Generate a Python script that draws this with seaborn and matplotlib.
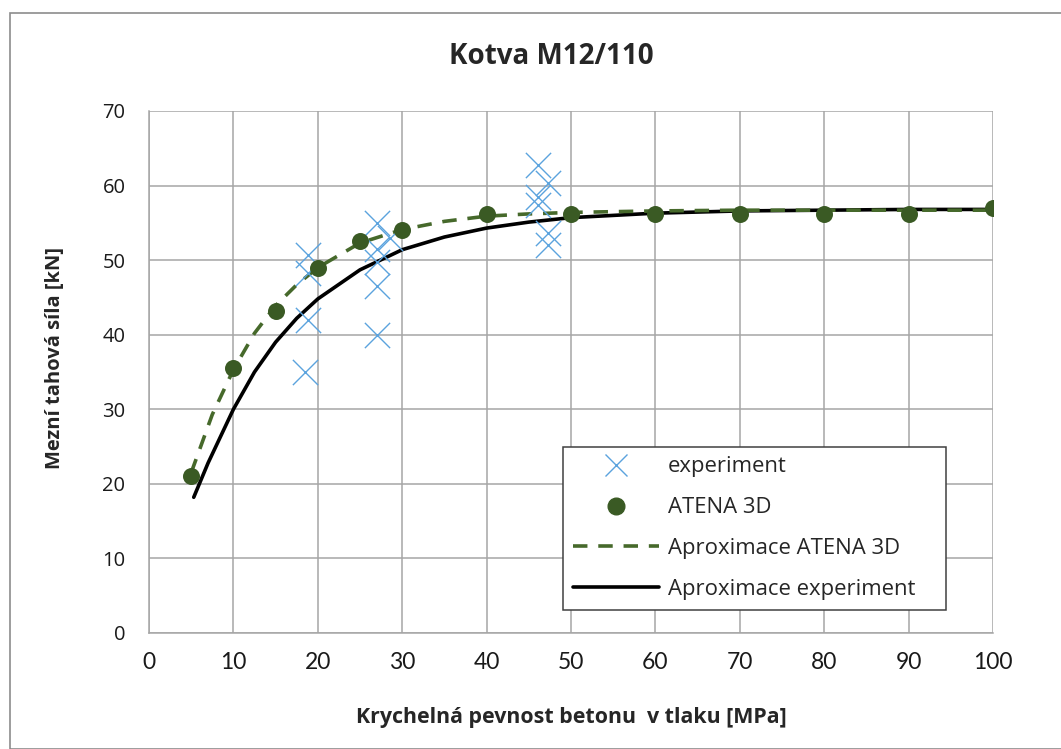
import matplotlib
matplotlib.use("Agg")
import matplotlib.pyplot as plt
import seaborn as sns
import pandas as pd
from matplotlib.patches import Rectangle
from matplotlib.lines import Line2D

# ---- data ----
exp_x = [18.8, 18.8, 18.8, 18.5, 27.0, 27.0, 27.0, 27.0, 27.0, 28.6,
         46.1, 46.1, 46.1, 47.3, 47.3, 47.3]
exp_y = [50.7, 48.3, 42.0, 35.0, 55.0, 51.5, 49.7, 46.5, 40.0, 53.0,
         62.8, 58.5, 57.4, 60.3, 53.6, 52.0]

atena_x = [5, 10, 15, 20, 25, 30, 40, 50, 60, 70, 80, 90, 100]
atena_y = [21.0, 35.5, 43.2, 49.0, 52.6, 54.1, 56.2, 56.2, 56.2, 56.2, 56.2, 56.2, 57.0]

apx_atena_x = [5, 7.5, 10, 12.5, 15, 17.5, 20, 25, 30, 35, 40, 45, 50, 60, 70, 80, 90, 100]
apx_atena_y = [21.5, 29.3, 35.3, 40.2, 43.9, 46.7, 49.0, 52.3, 54.1, 55.2, 55.9, 56.2, 56.4, 56.6, 56.7, 56.7, 56.7, 56.7]

apx_exp_x = [5.3, 7, 10, 12.5, 15, 17.5, 20, 25, 30, 35, 40, 45, 50, 60, 70, 80, 90, 100]
apx_exp_y = [18.2, 22.8, 30.0, 35.0, 39.0, 42.2, 44.8, 48.7, 51.4, 53.1, 54.3, 55.1, 55.7, 56.3, 56.6, 56.7, 56.8, 56.8]

x_ticks = [0, 10, 20, 30, 40, 50, 60, 70, 80, 90, 100]
y_ticks = [0, 10, 20, 30, 40, 50, 60, 70]

title = "Kotva M12/110"
xlabel = "Krychelná pevnost betonu  v tlaku [MPa]"
ylabel = "Mezní tahová síla [kN]"
labels = ["experiment", "ATENA 3D", "Aproximace ATENA 3D", "Aproximace experiment"]

# ---- style ----
sns.set_style("white")
plt.rcParams['font.family'] = ['Open Sans', 'DejaVu Sans']
LATO = ['Lato', 'DejaVu Sans']

c_exp = "#5BA3DE"
c_atena = "#3A5A24"
c_dash = "#46692B"
grid_c = "#A6A6A6"

fig = plt.figure(figsize=(10.61, 7.49), dpi=100)
ax = fig.add_axes([149/1061, 1-633/749, (993-149)/1061, (633-111)/749])

df_exp = pd.DataFrame({"x": exp_x, "y": exp_y})
df_at = pd.DataFrame({"x": atena_x, "y": atena_y})
df_ae = pd.DataFrame({"x": apx_exp_x, "y": apx_exp_y})
df_aa = pd.DataFrame({"x": apx_atena_x, "y": apx_atena_y})

sns.lineplot(data=df_ae, x="x", y="y", ax=ax, color="black", lw=2.6,
             sort=False, estimator=None, zorder=3)
sns.lineplot(data=df_aa, x="x", y="y", ax=ax, color=c_dash, lw=2.6,
             sort=False, estimator=None, zorder=4, dashes=False,
             linestyle=(0, (4.0, 3.0)))
sns.scatterplot(data=df_exp, x="x", y="y", ax=ax, marker="x", s=330,
                color=c_exp, linewidth=1.0, zorder=5)
sns.scatterplot(data=df_at, x="x", y="y", ax=ax, marker="o", s=150,
                color=c_atena, edgecolor=c_atena, linewidth=0, zorder=6)

ax.set_xlim(0, 100)
ax.set_ylim(0, 70)
ax.set_xticks(x_ticks)
ax.set_yticks(y_ticks)
ax.set_xticklabels([str(t) for t in x_ticks], fontfamily=LATO, fontsize=16.5)
ax.set_yticklabels([str(t) for t in y_ticks], fontsize=14.5)
ax.grid(True, color=grid_c, lw=1.1)
ax.set_axisbelow(True)
for s in ["top", "right"]:
    ax.spines[s].set_visible(False)
for s in ["left", "bottom"]:
    ax.spines[s].set_color(grid_c)
    ax.spines[s].set_linewidth(1.1)
ax.tick_params(axis="both", direction="out", length=6, width=1.1, color=grid_c,
               labelcolor="#1a1a1a")
ax.tick_params(axis="x", pad=8)
ax.tick_params(axis="y", pad=11)

ax.set_xlabel(xlabel, fontsize=15.4, fontweight="bold", fontstretch="condensed")
ax.set_ylabel(ylabel, fontsize=14.5, fontweight="bold")
ax.xaxis.set_label_coords(0.5, -(717-633)/522)
ax.xaxis.label.set_va("center")
ax.yaxis.set_label_coords((55-149)/844, (633-358)/522)
ax.yaxis.label.set_va("center")

fig.text(551/1061, 1-57/749, title, ha="center", va="center",
         fontsize=20, fontweight="bold", fontstretch="condensed")

# outer chart border
fig.add_artist(Rectangle((10/1061, 0.0), 1.2, 1-13/749, transform=fig.transFigure,
                         fill=False, edgecolor="#8C8C8C", lw=1.2))

handles = [
    Line2D([], [], ls="none", marker="x", ms=16, mew=1.0, color=c_exp),
    Line2D([], [], ls="none", marker="o", ms=12, color=c_atena),
    Line2D([], [], color=c_dash, lw=2.6, linestyle=(0, (4.0, 3.0))),
    Line2D([], [], color="black", lw=2.6),
]
leg = ax.legend(handles, labels, loc="lower left",
                bbox_to_anchor=((563-149)/(993-149), (633-610)/(633-111),
                                (946-563)/(993-149), (610-448)/(633-111)),
                mode="expand", fontsize=15.9, frameon=True, fancybox=False,
                edgecolor="#404040", framealpha=1, handlelength=3.9,
                handletextpad=0.4, labelspacing=0.9, borderpad=0.45,
                borderaxespad=0)
leg.get_frame().set_linewidth(1.1)
leg.set_zorder(10)

fig.savefig("out.png", dpi=100)
